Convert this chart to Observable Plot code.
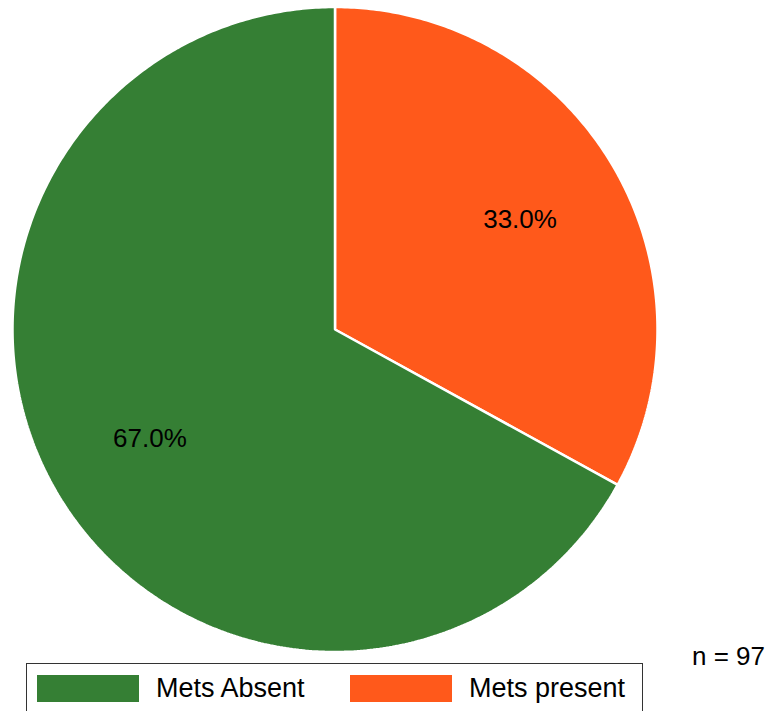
<!DOCTYPE html>
<html>
<head>
<meta charset="utf-8">
<script src="https://cdn.jsdelivr.net/npm/d3@7"></script>
<script src="https://cdn.jsdelivr.net/npm/@observablehq/plot@0.6"></script>
<style>
  html, body { margin: 0; padding: 0; background: #fff; }
  #wrap { position: relative; width: 770px; height: 711px; overflow: hidden; font-family: "Liberation Sans", Arial, sans-serif; }
  #legend { position: absolute; left: 26px; top: 663px; width: 617px; height: 60px; border: 1px solid #333; box-sizing: border-box; background: #fff; }
  .item { position: absolute; top: 11px; display: flex; align-items: center; }
  .sw { width: 102px; height: 27px; margin-right: 17px; }
  .lbl { font-size: 27px; color: #000; line-height: 27px; }
  #n { position: absolute; left: 692px; top: 641px; font-size: 26px; color: #000; }
</style>
</head>
<body>
<div id="wrap">
  <div id="chart"></div>
  <div id="legend"></div>
  <div id="n"></div>
</div>
<script>
const categories = ["Mets Absent", "Mets present"];
const shares = [67.0, 33.0];
const colors = ["#357f34", "#ff591b"];
const sampleSize = 97;

// pie angles (clockwise from top), present slice starts at 12 o'clock
const order = [1, 0];
let start = 0;
const slices = order.map(i => {
  const a0 = start, a1 = start + shares[i] / 100 * 2 * Math.PI;
  start = a1;
  return {cat: categories[i], value: shares[i], a0, a1};
});

const pts = [];
for (const s of slices) {
  pts.push({cat: s.cat, x: 0, y: 0});
  const n = Math.max(2, Math.ceil((s.a1 - s.a0) / 0.01));
  for (let k = 0; k <= n; k++) {
    const a = s.a0 + (s.a1 - s.a0) * k / n;
    pts.push({cat: s.cat, x: Math.sin(a), y: Math.cos(a)});
  }
}
const labels = slices.map(s => {
  const m = (s.a0 + s.a1) / 2;
  return {cat: s.cat, x: (2/3) * Math.sin(m), y: (2/3) * Math.cos(m), text: s.value.toFixed(1) + "%"};
});

const R = 322.5, cx = 334.5, cy = 329, W = 770, H = 711;
const chart = Plot.plot({
  width: W, height: H,
  margin: 0,
  x: {domain: [-cx / R, (W - cx) / R], range: [0, W], axis: null},
  y: {domain: [-(H - cy) / R, cy / R], range: [H, 0], axis: null},
  color: {domain: categories, range: colors},
  style: {fontFamily: "'Liberation Sans', Arial, sans-serif", background: "#fff"},
  marks: [
    Plot.line(pts, {x: "x", y: "y", z: "cat", fill: "cat", stroke: "white", strokeWidth: 2.5, strokeLinejoin: "miter", curve: "linear-closed"}),
    Plot.text(labels, {x: "x", y: "y", text: "text", fontSize: 26, fill: "black"})
  ]
});
document.getElementById("chart").appendChild(chart);

const lg = document.getElementById("legend");
const lefts = [10, 323];
categories.forEach((c, i) => {
  const it = document.createElement("div");
  it.className = "item";
  it.style.left = lefts[i] + "px";
  it.innerHTML = `<div class="sw" style="background:${colors[i]}"></div><span class="lbl">${c}</span>`;
  lg.appendChild(it);
});
document.getElementById("n").textContent = "n = " + sampleSize;
</script>
</body>
</html>
